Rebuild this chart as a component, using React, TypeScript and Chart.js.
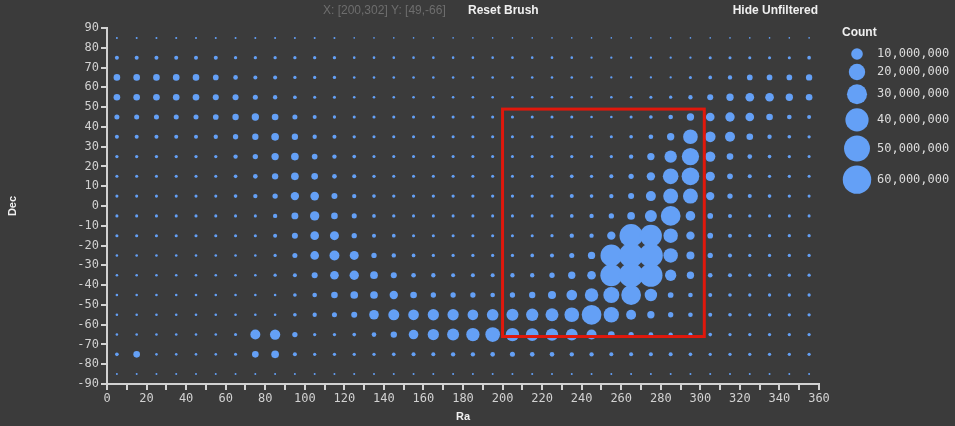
import React, { useEffect, useRef } from "react";
import { Chart, registerables } from "chart.js";

Chart.register(...registerables);

// Grid centres
const raValues = [5, 15, 25, 35, 45, 55, 65, 75, 85, 95, 105, 115, 125, 135, 145, 155, 165, 175, 185, 195, 205, 215, 225, 235, 245, 255, 265, 275, 285, 295, 305, 315, 325, 335, 345, 355];
const decValues = [85, 75, 65, 55, 45, 35, 25, 15, 5, -5, -15, -25, -35, -45, -55, -65, -75, -85];

// Counts in millions, one array per Dec row, Ra from 5 to 355
const dec85 = [0.3, 0.3, 0.3, 0.3, 0.3, 0.3, 0.3, 0.3, 0.3, 0.3, 0.3, 0.3, 0.2, 0.2, 0.2, 0.2, 0.2, 0.2, 0.2, 0.2, 0.2, 0.2, 0.2, 0.2, 0.2, 0.2, 0.2, 0.2, 0.2, 0.2, 0.2, 0.2, 0.2, 0.2, 0.2, 0.2];
const dec75 = [1.2, 1.2, 1.2, 1.2, 1.2, 1.2, 0.8, 0.8, 0.8, 0.8, 0.8, 0.8, 0.5, 0.5, 0.5, 0.5, 0.5, 0.5, 0.5, 0.5, 0.5, 0.5, 0.5, 0.5, 0.4, 0.4, 0.4, 0.4, 0.4, 0.4, 0.7, 0.7, 0.7, 0.7, 0.7, 1.0];
const dec65 = [3.3, 3.3, 3.3, 3.3, 3.3, 2.4, 1.6, 1.2, 1.2, 0.8, 0.8, 0.8, 0.5, 0.5, 0.5, 0.5, 0.5, 0.5, 0.5, 0.5, 0.5, 0.5, 0.5, 0.5, 0.4, 0.4, 0.4, 0.4, 0.4, 0.7, 1.0, 1.4, 2.4, 2.4, 2.4, 3.0];
const dec55 = [3.3, 3.3, 3.3, 3.3, 3.3, 2.7, 2.7, 1.9, 1.4, 1.0, 0.7, 0.7, 0.5, 0.5, 0.5, 0.5, 0.5, 0.5, 0.5, 0.5, 0.5, 0.5, 0.5, 0.5, 0.4, 0.5, 0.5, 0.7, 0.8, 1.4, 2.7, 4.0, 5.6, 5.6, 4.0, 3.3];
const dec45 = [1.9, 1.9, 1.9, 1.9, 1.9, 2.4, 3.0, 4.0, 3.3, 1.9, 1.2, 0.8, 0.7, 0.7, 0.7, 0.7, 0.7, 0.7, 0.7, 0.7, 0.7, 0.7, 0.7, 0.7, 0.5, 0.5, 0.7, 1.0, 1.6, 4.0, 5.6, 6.5, 5.6, 3.3, 1.6, 1.2];
const dec35 = [1.2, 1.2, 1.2, 1.2, 1.2, 1.4, 2.1, 3.0, 4.4, 3.0, 1.4, 1.2, 0.8, 0.7, 0.7, 0.7, 0.7, 0.7, 0.7, 0.7, 0.7, 0.7, 0.7, 0.7, 0.5, 0.7, 1.0, 1.6, 4.0, 16.0, 8.5, 7.4, 3.3, 1.4, 1.0, 0.8];
const dec25 = [0.8, 0.8, 0.8, 0.8, 0.8, 0.8, 1.4, 2.1, 4.0, 4.4, 2.4, 1.4, 1.0, 0.7, 0.7, 0.7, 0.7, 0.7, 0.7, 0.7, 0.7, 0.7, 0.7, 0.8, 0.7, 0.8, 1.4, 4.0, 11.3, 22.3, 7.9, 3.3, 1.6, 1.0, 0.8, 0.7];
const dec15 = [0.7, 0.7, 0.7, 0.7, 0.7, 0.7, 1.0, 1.6, 3.0, 4.4, 3.3, 1.6, 1.2, 0.8, 0.7, 0.7, 0.7, 0.7, 0.7, 0.7, 0.7, 0.7, 0.7, 1.0, 0.8, 1.2, 2.1, 5.2, 18.2, 23.2, 6.5, 2.4, 1.2, 0.8, 0.8, 0.7];
const dec5 = [0.7, 0.7, 0.7, 0.7, 0.7, 0.7, 1.0, 1.4, 2.1, 5.2, 5.6, 2.7, 1.4, 1.0, 0.8, 0.8, 0.8, 0.8, 0.8, 0.8, 0.8, 0.8, 0.8, 1.2, 1.0, 1.4, 2.7, 7.4, 16.7, 16.7, 5.2, 2.1, 1.2, 1.0, 0.8, 0.7];
const decM5 = [0.7, 0.7, 0.7, 0.7, 0.7, 0.7, 0.7, 0.7, 1.4, 3.6, 6.5, 3.3, 1.9, 1.0, 0.8, 0.7, 0.7, 0.7, 0.7, 0.7, 0.7, 0.7, 0.7, 1.0, 1.4, 2.1, 4.4, 10.7, 29.0, 6.9, 2.4, 1.2, 0.8, 0.7, 0.7, 0.7];
const decM15 = [0.7, 0.7, 0.7, 0.7, 0.7, 0.7, 0.7, 0.7, 1.2, 2.7, 5.6, 6.0, 2.1, 1.2, 1.0, 0.7, 0.7, 0.7, 0.7, 0.7, 0.7, 0.7, 0.8, 1.4, 1.4, 5.2, 40.0, 36.0, 15.5, 5.2, 2.4, 1.2, 0.8, 0.8, 0.8, 0.8];
const decM25 = [0.5, 0.5, 0.5, 0.5, 0.5, 0.5, 0.5, 0.5, 0.8, 1.9, 5.6, 7.4, 6.0, 2.1, 1.4, 1.0, 0.8, 0.8, 0.8, 0.8, 0.8, 1.0, 1.2, 1.9, 4.0, 35.0, 44.0, 42.0, 15.5, 4.8, 2.1, 1.2, 0.8, 0.8, 0.8, 0.8];
const decM35 = [0.5, 0.5, 0.5, 0.5, 0.5, 0.5, 0.5, 0.5, 0.8, 1.2, 2.7, 5.6, 6.5, 4.4, 2.7, 1.6, 1.4, 1.2, 1.2, 1.2, 1.4, 1.4, 2.1, 4.0, 5.6, 36.0, 44.0, 40.0, 9.5, 4.0, 1.6, 1.2, 0.8, 0.8, 0.8, 0.8];
const decM45 = [0.5, 0.5, 0.5, 0.5, 0.5, 0.5, 0.5, 0.5, 0.5, 1.0, 1.6, 3.3, 4.4, 4.4, 5.2, 3.3, 2.1, 2.1, 2.1, 1.6, 2.1, 3.0, 4.8, 8.5, 13.5, 19.0, 29.0, 11.5, 2.4, 1.6, 1.2, 1.0, 0.8, 0.8, 0.8, 0.8];
const decM55 = [0.5, 0.5, 0.5, 0.5, 0.5, 0.5, 0.5, 0.5, 0.5, 1.0, 1.4, 1.9, 2.7, 6.9, 9.0, 8.5, 9.5, 9.5, 8.5, 10.1, 10.7, 11.3, 12.5, 16.0, 29.0, 17.5, 7.4, 4.0, 2.1, 1.6, 1.2, 1.0, 0.8, 0.8, 0.8, 0.8];
const decM65 = [0.5, 0.5, 0.5, 0.5, 0.5, 0.5, 0.7, 7.4, 7.9, 2.1, 0.8, 0.8, 1.0, 1.6, 3.0, 6.9, 9.5, 10.7, 13.2, 16.0, 13.2, 11.9, 11.3, 10.1, 7.4, 3.3, 2.1, 1.6, 1.4, 1.2, 1.0, 0.8, 0.8, 0.8, 0.8, 0.8];
const decM75 = [1.0, 3.3, 0.5, 0.5, 0.5, 0.5, 0.7, 3.3, 4.4, 1.2, 0.8, 0.8, 0.8, 0.8, 1.0, 1.2, 1.2, 1.4, 1.4, 1.6, 1.9, 1.6, 1.6, 1.4, 1.4, 1.2, 1.2, 1.2, 1.2, 1.0, 0.8, 0.8, 0.8, 0.8, 0.8, 0.8];
const decM85 = [0.3, 0.3, 0.3, 0.3, 0.3, 0.3, 0.3, 0.3, 0.3, 0.3, 0.3, 0.3, 0.3, 0.3, 0.3, 0.3, 0.3, 0.3, 0.3, 0.3, 0.3, 0.3, 0.3, 0.3, 0.3, 0.3, 0.3, 0.3, 0.3, 0.3, 0.3, 0.3, 0.3, 0.3, 0.3, 0.3];

const countRows = [dec85, dec75, dec65, dec55, dec45, dec35, dec25, dec15, dec5, decM5, decM15, decM25, decM35, decM45, decM55, decM65, decM75, decM85];

// Legend counts (millions) and labels
const legendCounts = [10, 20, 30, 40, 50, 60];
const legendLabels = ["10,000,000", "20,000,000", "30,000,000", "40,000,000", "50,000,000", "60,000,000"];

// Brush selection
const brushRa = [200, 302];
const brushDec = [-66, 49];

const BG = "#3b3b3b";
const BLUE = "#64a0f6";
const AXIS = "#d2d2d2";
const MONO = "'DejaVu Sans Mono', monospace";
const SANS = "'Liberation Sans', Arial, sans-serif";

const radiusOf = (millions: number) => 5.8 * Math.sqrt(millions / 10);

const overlayPlugin = {
  id: "overlay",
  afterDatasetsDraw(chart: any) {
    const { ctx, scales } = chart;
    const x = scales.x;
    const y = scales.y;
    const x0 = x.getPixelForValue(brushRa[0]);
    const x1 = x.getPixelForValue(brushRa[1]);
    const y0 = y.getPixelForValue(brushDec[1]);
    const y1 = y.getPixelForValue(brushDec[0]);
    ctx.save();
    ctx.strokeStyle = "#e0180c";
    ctx.lineWidth = 3;
    ctx.strokeRect(x0, y0, x1 - x0, y1 - y0);
    ctx.restore();
  },
  afterDraw(chart: any) {
    const { ctx, chartArea } = chart;
    ctx.save();
    ctx.textBaseline = "middle";
    ctx.textAlign = "left";
    ctx.font = `12px ${SANS}`;
    ctx.fillStyle = "#6e6e6e";
    ctx.fillText(`X: [${brushRa[0]},${brushRa[1]}] Y: [${brushDec[1]},${brushDec[0]}]`, 323, 11);
    ctx.font = `bold 12px ${SANS}`;
    ctx.fillStyle = "#f0f0f0";
    ctx.fillText("Reset Brush", 468, 11);
    ctx.textAlign = "right";
    ctx.fillText("Hide Unfiltered", chartArea.right - 1, 11);

    ctx.textAlign = "left";
    ctx.font = `bold 12px ${SANS}`;
    ctx.fillStyle = "#f0f0f0";
    ctx.fillText("Count", 842, 33);
    const cx = 857;
    let cy = 54;
    let prevR = 0;
    legendCounts.forEach((c, i) => {
      const r = radiusOf(c);
      if (i > 0) cy += prevR + r + 4;
      ctx.beginPath();
      ctx.arc(cx, cy, r, 0, Math.PI * 2);
      ctx.fillStyle = BLUE;
      ctx.fill();
      ctx.font = `12px ${MONO}`;
      ctx.fillStyle = "#dcdcdc";
      ctx.fillText(legendLabels[i], 877, cy);
      prevR = r;
    });
    ctx.restore();
  },
};

export default function App() {
  const canvasRef = useRef<HTMLCanvasElement | null>(null);

  useEffect(() => {
    document.body.style.margin = "0";
    document.body.style.background = BG;
    const points: { x: number; y: number; r: number }[] = [];
    decValues.forEach((dec, j) => {
      raValues.forEach((ra, i) => {
        points.push({ x: ra, y: dec, r: radiusOf(countRows[j][i]) });
      });
    });

    const chart = new Chart(canvasRef.current as HTMLCanvasElement, {
      type: "bubble",
      data: {
        datasets: [
          {
            data: points,
            backgroundColor: BLUE,
            borderWidth: 0,
            hoverRadius: 0,
          },
        ],
      },
      options: {
        animation: false,
        responsive: false,
        devicePixelRatio: 1,
        events: [],
        layout: { padding: { left: 0, right: 136, top: 28, bottom: 0 } },
        plugins: { legend: { display: false }, tooltip: { enabled: false } },
        scales: {
          x: {
            type: "linear",
            min: 0,
            max: 360,
            afterFit: (s: any) => {
              s.height = 42;
            },
            ticks: {
              stepSize: 10,
              autoSkip: false,
              maxRotation: 0,
              padding: 2,
              color: AXIS,
              font: { family: MONO, size: 12 },
              callback: (v: any) => (Number(v) % 20 === 0 ? String(v) : ""),
            },
            grid: { drawOnChartArea: false, drawTicks: true, tickLength: 6, color: AXIS, lineWidth: 2 },
            border: { display: true, color: AXIS, width: 2 },
            title: {
              display: true,
              text: "Ra",
              color: "#f0f0f0",
              font: { family: SANS, size: 11, weight: "bold" },
              padding: { top: 0, bottom: 2 },
            },
          },
          y: {
            type: "linear",
            min: -90,
            max: 90,
            afterFit: (s: any) => {
              s.width = 107;
            },
            ticks: {
              stepSize: 10,
              autoSkip: false,
              padding: 2,
              color: AXIS,
              font: { family: MONO, size: 12 },
            },
            grid: { drawOnChartArea: false, drawTicks: true, tickLength: 6, color: AXIS, lineWidth: 2 },
            border: { display: true, color: AXIS, width: 2 },
            title: {
              display: true,
              text: "Dec",
              color: "#f0f0f0",
              font: { family: SANS, size: 11, weight: "bold" },
              padding: { top: 6, bottom: 0 },
            },
          },
        },
      },
      plugins: [overlayPlugin],
    } as any);
    return () => chart.destroy();
  }, []);

  return (
    <div style={{ width: 955, height: 426, background: BG }}>
      <canvas ref={canvasRef} width={955} height={426} style={{ display: "block", width: 955, height: 426 }} />
    </div>
  );
}
